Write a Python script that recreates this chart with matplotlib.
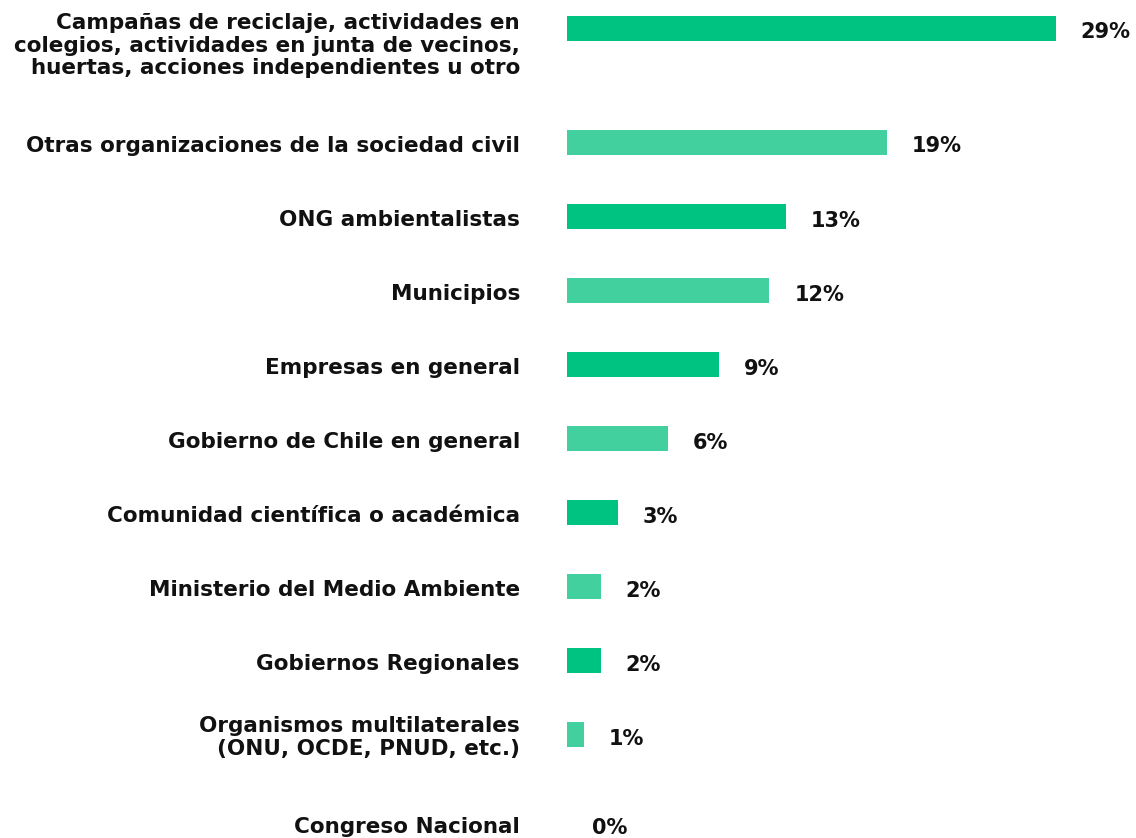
import matplotlib
matplotlib.use("Agg")
from matplotlib import pyplot as plt

categories = [
    "Campañas de reciclaje, actividades en\ncolegios, actividades en junta de vecinos,\nhuertas, acciones independientes u otro",
    "Otras organizaciones de la sociedad civil",
    "ONG ambientalistas",
    "Municipios",
    "Empresas en general",
    "Gobierno de Chile en general",
    "Comunidad científica o académica",
    "Ministerio del Medio Ambiente",
    "Gobiernos Regionales",
    "Organismos multilaterales\n(ONU, OCDE, PNUD, etc.)",
    "Congreso Nacional",
]
values = [29, 19, 13, 12, 9, 6, 3, 2, 2, 1, 0]
value_labels = ["29%", "19%", "13%", "12%", "9%", "6%", "3%", "2%", "2%", "1%", "0%"]

dark = "#00C281"
light = "#42D19E"
colors = [dark if i % 2 == 0 else light for i in range(len(values))]

plt.rcParams["font.family"] = ["DejaVu Sans"]

W, H = 1136, 838
fig = plt.figure(figsize=(W / 100, H / 100), dpi=100)
px_per_unit = 16.85
bar_left = 567
ax = fig.add_axes([bar_left / W, 0, (W - bar_left) / W, 1])
ax.set_xlim(0, (W - bar_left) / px_per_unit)
ax.set_ylim(H, 0)
ax.axis("off")

# row positions in pixels: extra room after multi-line labels
ys = []
y = 28.5
for i, c in enumerate(categories):
    ys.append(y)
    n = c.count("\n") + 1
    y += 74 + 20 * (n - 1) if n > 2 else 74 + 15 * (n - 1)

ax.barh(ys, values, height=25, color=colors)

label_x = (520 - bar_left) / px_per_unit
for yy, c, v, t in zip(ys, categories, values, value_labels):
    n = c.count("\n") + 1
    ly = max(yy + 3, n * 11.5 + 11)
    ax.text(label_x, ly, c, ha="right", va="center", fontsize=15.5,
            fontweight="bold", linespacing=1.15, color="#111111", clip_on=False)
    ax.text(v + 25 / px_per_unit, yy + 4, t, ha="left", va="center",
            fontsize=15, fontweight="bold", color="#111111", clip_on=False)

fig.savefig("out.png", dpi=100)
